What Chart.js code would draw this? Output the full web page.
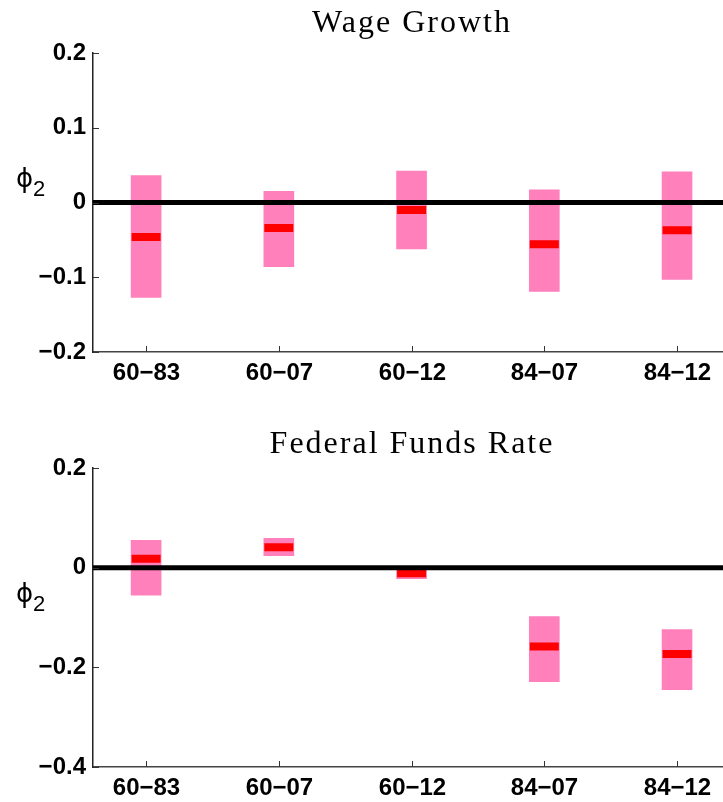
<!DOCTYPE html>
<html>
<head>
<meta charset="utf-8">
<script src="https://cdn.jsdelivr.net/npm/chart.js@4/dist/chart.umd.min.js"></script>
<style>
  html, body { margin: 0; padding: 0; background: #fff; overflow: hidden; }
  .panel { width: 723px; overflow: hidden; }
  canvas { display: block; }
</style>
</head>
<body>
<div class="panel"><canvas id="wageChart" width="723" height="400"></canvas></div>
<div class="panel"><canvas id="ffrChart" width="723" height="402"></canvas></div>
<script>
// sample periods
const periods = ["60\u221283", "60\u221207", "60\u221212", "84\u221207", "84\u221212"];

// Wage Growth: band (low/high) and median of phi_2
const wageLow = [-0.127, -0.086, -0.062, -0.119, -0.103];
const wageHigh = [0.036, 0.015, 0.042, 0.017, 0.041];
const wageMed = [-0.046, -0.034, -0.010, -0.056, -0.037];

// Federal Funds Rate
const ffrLow = [-0.055, 0.024, -0.022, -0.229, -0.245];
const ffrHigh = [0.055, 0.059, 0.001, -0.098, -0.124];
const ffrMed = [0.018, 0.041, -0.011, -0.158, -0.173];

const wageTicks = [-0.2, -0.1, 0, 0.1, 0.2];
const ffrTicks = [-0.4, -0.2, 0, 0.2];

const tickFont = { family: "'Liberation Sans', Arial, sans-serif", size: 24, weight: "bold" };
const PAGE_W = 723;

const fmtTick = (v) => {
  if (Math.abs(v) < 1e-9) return "0";
  return (v < 0 ? "\u2212" : "") + Math.abs(v).toFixed(1);
};

// title, phi label, period labels and inward tick marks (matlab style)
const decorPlugin = {
  id: "decor",
  afterDraw(chart, args, opts) {
    const ctx = chart.ctx;
    const area = chart.chartArea;
    const xs = chart.scales.x;
    const ys = chart.scales.y;
    ctx.save();
    ctx.strokeStyle = "#333";
    ctx.lineWidth = 1;
    ys.ticks.forEach((t) => {
      const y = Math.round(ys.getPixelForValue(t.value)) + 0.5;
      ctx.beginPath();
      ctx.moveTo(area.left, y);
      ctx.lineTo(area.left + 6, y);
      ctx.stroke();
    });
    ctx.fillStyle = "#000";
    ctx.font = "bold 24px 'Liberation Sans', Arial, sans-serif";
    ctx.textAlign = "center";
    ctx.textBaseline = "middle";
    periods.forEach((p, i) => {
      const x = Math.round(xs.getPixelForValue(i + 1)) + 0.5;
      ctx.beginPath();
      ctx.moveTo(x, area.bottom);
      ctx.lineTo(x, area.bottom - 6);
      ctx.stroke();
      ctx.fillText(p, x, area.bottom + 21);
    });

    ctx.font = "32px 'Liberation Serif', 'Times New Roman', serif";
    ctx.letterSpacing = "2px";
    ctx.textBaseline = "alphabetic";
    ctx.fillText(opts.title, 412, opts.titleY);
    ctx.letterSpacing = "0px";

    const cy = (area.top + area.bottom) / 2 - 22;
    ctx.textAlign = "left";
    ctx.textBaseline = "middle";
    ctx.font = "26px 'DejaVu Sans', sans-serif";
    ctx.fillText("\u03d5", 16, cy);
    ctx.font = "22px 'Liberation Sans', Arial, sans-serif";
    ctx.fillText("2", 33, cy + 9);
    ctx.restore();
  },
};

function makeChart(id, title, titleY, low, high, med, yMin, yMax, yStep, padTop, xHeight) {
  const bands = periods.map((p, i) => ({ x: i + 1, y: [low[i], high[i]] }));
  const medians = periods.map((p, i) => ({ x: i + 1, y: med[i] }));
  return new Chart(document.getElementById(id), {
    type: "bar",
    data: {
      datasets: [
        {
          type: "line",
          data: [{ x: 0.6, y: 0 }, { x: 5.35, y: 0 }],
          borderColor: "#000",
          borderWidth: 5,
          pointRadius: 0,
          order: 0,
        },
        {
          type: "scatter",
          data: medians,
          pointStyle: "line",
          pointRadius: 14.5,
          pointBorderWidth: 8,
          pointBorderColor: "#ff0000",
          pointBackgroundColor: "#ff0000",
          order: 1,
        },
        {
          type: "bar",
          data: bands,
          backgroundColor: "#ff80bb",
          borderWidth: 0,
          barThickness: 30,
          order: 2,
        },
      ],
    },
    options: {
      responsive: false,
      animation: false,
      devicePixelRatio: 1,
      layout: { padding: { top: padTop, right: 0, bottom: 0, left: 0 } },
      plugins: {
        legend: { display: false },
        tooltip: { enabled: false },
        decor: { title: title, titleY: titleY },
      },
      scales: {
        x: {
          type: "linear",
          min: 0.6,
          max: 5.35,
          offset: false,
          grid: { display: false, drawTicks: false, offset: false },
          border: { display: true, color: "#444", width: 1.5 },
          ticks: { display: false },
          afterFit: (scale) => { scale.height = xHeight; },
        },
        y: {
          min: yMin,
          max: yMax,
          grid: { display: false, drawTicks: false },
          border: { display: true, color: "#222", width: 1.5 },
          afterFit: (scale) => { scale.width = 93; },
          ticks: {
            stepSize: yStep,
            padding: 7,
            color: "#000",
            font: tickFont,
            callback: fmtTick,
          },
        },
      },
    },
    plugins: [decorPlugin],
  });
}

// the plot runs off the right edge of the page, so widen the canvas until
// the x axis ends exactly at the page edge
function buildPanel(id, ...args) {
  const canvas = document.getElementById(id);
  let chart = makeChart(id, ...args);
  for (let k = 0; k < 4; k++) {
    const gap = Math.round(PAGE_W - chart.scales.x.right);
    if (gap === 0) break;
    const w = canvas.width + gap;
    chart.destroy();
    canvas.width = w;
    chart = makeChart(id, ...args);
  }
  return chart;
}

buildPanel("wageChart", "Wage Growth", 32, wageLow, wageHigh, wageMed,
  wageTicks[0], wageTicks[wageTicks.length - 1], 0.1, 53, 48);
buildPanel("ffrChart", "Federal Funds Rate", 53, ffrLow, ffrHigh, ffrMed,
  ffrTicks[0], ffrTicks[ffrTicks.length - 1], 0.2, 68, 35);
</script>
</body>
</html>
